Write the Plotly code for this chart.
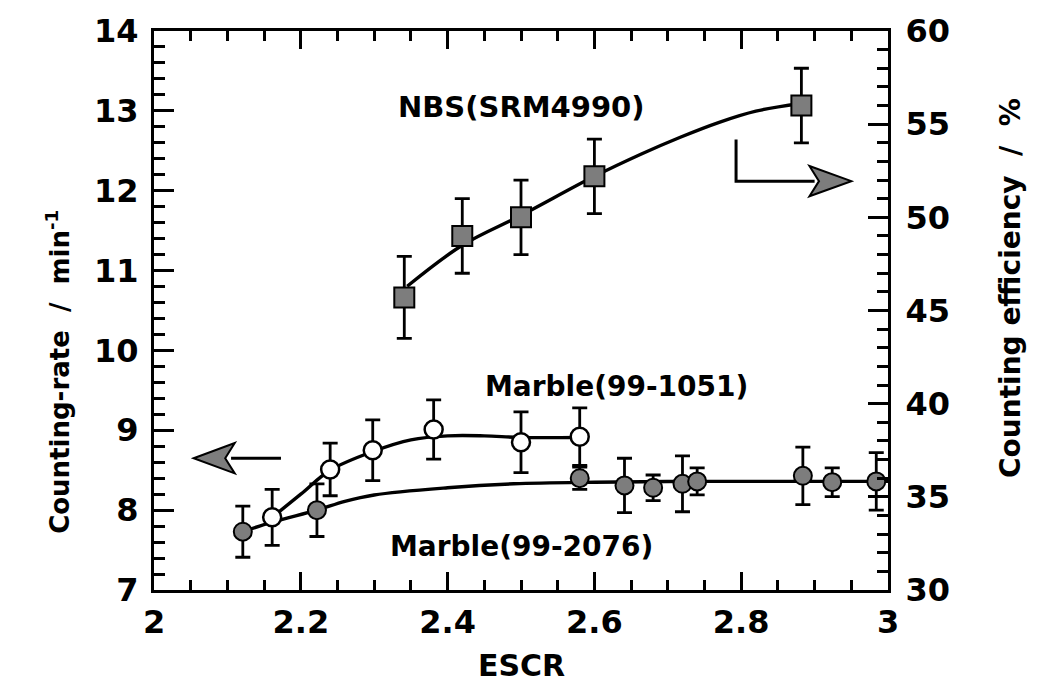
import plotly.graph_objects as go

# ---------------- data ----------------
nbs_x = [2.341, 2.420, 2.500, 2.600, 2.882]
nbs_y = [45.7, 49.0, 50.0, 52.2, 56.0]          # right axis (%)
nbs_err = [2.2, 2.0, 2.0, 2.0, 2.0]

m1051_x = [2.161, 2.240, 2.298, 2.381, 2.500, 2.580]
m1051_y = [7.91, 8.51, 8.75, 9.01, 8.85, 8.92]
m1051_err = [0.35, 0.33, 0.38, 0.37, 0.38, 0.36]

m2076_x = [2.121, 2.222, 2.580, 2.641, 2.680, 2.720, 2.740, 2.884, 2.924, 2.984]
m2076_y = [7.73, 8.00, 8.40, 8.31, 8.28, 8.33, 8.36, 8.43, 8.35, 8.36]
m2076_err = [0.32, 0.33, 0.14, 0.34, 0.16, 0.35, 0.17, 0.36, 0.18, 0.36]

# fitted curves
nbs_fit_x = [2.345, 2.42, 2.50, 2.60, 2.664, 2.717, 2.77, 2.82, 2.88]
nbs_fit_y = [46.3, 48.5, 50.1, 52.2, 53.4, 54.3, 55.1, 55.7, 56.1]
m1051_fit_x = [2.161, 2.20, 2.24, 2.30, 2.35, 2.40, 2.45, 2.50, 2.58]
m1051_fit_y = [7.91, 8.20, 8.50, 8.74, 8.88, 8.93, 8.93, 8.91, 8.91]
m2076_fit_x = [2.121, 2.161, 2.222, 2.26, 2.30, 2.40, 2.49, 2.60, 2.75, 2.90, 3.0]
m2076_fit_y = [7.73, 7.85, 8.00, 8.11, 8.19, 8.28, 8.33, 8.35, 8.36, 8.36, 8.36]

x_ticks = [2, 2.2, 2.4, 2.6, 2.8, 3]
x_ticklabels = ["2", "2.2", "2.4", "2.6", "2.8", "3"]
y_ticks = [7, 8, 9, 10, 11, 12, 13, 14]
y2_ticks = [30, 35, 40, 45, 50, 55, 60]

FONT = "DejaVu Sans"
GRAY = "#7d7d7d"

fig = go.Figure()

line_style = dict(color="black", width=3.4, shape="spline")
fig.add_trace(go.Scatter(x=m2076_fit_x, y=m2076_fit_y, mode="lines", line=line_style, hoverinfo="skip"))
fig.add_trace(go.Scatter(x=m1051_fit_x, y=m1051_fit_y, mode="lines", line=line_style, hoverinfo="skip"))
fig.add_trace(go.Scatter(x=nbs_fit_x, y=nbs_fit_y, mode="lines", line=line_style, yaxis="y2", hoverinfo="skip"))

err_style = dict(type="data", color="black", thickness=2.8, width=7.5)
fig.add_trace(go.Scatter(
    x=m2076_x, y=m2076_y, mode="markers",
    error_y=dict(array=m2076_err, **err_style),
    marker=dict(symbol="circle", size=18, color=GRAY, line=dict(color="black", width=2)),
))
fig.add_trace(go.Scatter(
    x=m1051_x, y=m1051_y, mode="markers",
    error_y=dict(array=m1051_err, **err_style),
    marker=dict(symbol="circle", size=18, color="white", line=dict(color="black", width=2.5)),
))
fig.add_trace(go.Scatter(
    x=nbs_x, y=nbs_y, mode="markers", yaxis="y2",
    error_y=dict(array=nbs_err, **err_style),
    marker=dict(symbol="square", size=20, color=GRAY, line=dict(color="black", width=2)),
))

tickfont = dict(family=FONT, size=32, color="black", weight="bold")

fig.update_layout(
    width=1050, height=699,
    margin=dict(l=154, r=162, t=22, b=109),
    paper_bgcolor="white", plot_bgcolor="white",
    showlegend=False,
    xaxis=dict(
        range=[2, 3], tickvals=x_ticks, ticktext=x_ticklabels,
        ticks="inside", ticklen=18, tickwidth=2.5, tickcolor="black",
        minor=dict(dtick=0.05, ticks="inside", ticklen=10, tickwidth=2.5, tickcolor="black"),
        showline=True, linewidth=3, linecolor="black", mirror="ticks",
        showgrid=False, zeroline=False, tickfont=tickfont, ticklabelstandoff=2,
    ),
    yaxis=dict(
        range=[7, 14], tickvals=y_ticks,
        ticks="inside", ticklen=20, tickwidth=2.5, tickcolor="black",
        minor=dict(dtick=0.2, ticks="inside", ticklen=11, tickwidth=2.5, tickcolor="black"),
        showline=True, linewidth=3, linecolor="black",
        showgrid=False, zeroline=False, tickfont=tickfont, ticklabelstandoff=6,
    ),
    yaxis2=dict(
        range=[30, 60], tickvals=y2_ticks, overlaying="y", side="right",
        ticks="inside", ticklen=20, tickwidth=2.5, tickcolor="black",
        minor=dict(dtick=1, ticks="inside", ticklen=11, tickwidth=2.5, tickcolor="black"),
        showline=True, linewidth=3, linecolor="black",
        showgrid=False, zeroline=False, tickfont=tickfont, ticklabelstandoff=8,
    ),
)

labfont = dict(family=FONT, size=29, color="black", weight="bold")
fig.add_annotation(x=2.50, y=13.05, xref="x", yref="y", text="NBS(SRM4990)", showarrow=False,
                   font=labfont, xanchor="center", yanchor="middle")
fig.add_annotation(x=2.63, y=9.55, xref="x", yref="y", text="Marble(99-1051)", showarrow=False,
                   font=dict(labfont, size=28), xanchor="center", yanchor="middle")
fig.add_annotation(x=2.50, y=7.55, xref="x", yref="y", text="Marble(99-2076)", showarrow=False,
                   font=dict(labfont, size=28), xanchor="center", yanchor="middle")

titlefont = dict(family=FONT, size=26, color="black", weight="bold")
fig.add_annotation(x=-0.131, y=0.39, xref="paper", yref="paper",
                   text="Counting-rate\u00a0\u00a0/\u00a0\u00a0min<sup>-1</sup>",
                   textangle=-90, showarrow=False, font=titlefont, xanchor="center", yanchor="middle")
fig.add_annotation(x=1.166, y=0.54, xref="paper", yref="paper",
                   text="Counting efficiency\u00a0\u00a0/\u00a0\u00a0%",
                   textangle=-90, showarrow=False, font=dict(titlefont, size=28), xanchor="center", yanchor="middle")
fig.add_annotation(x=0.5, y=-0.135, xref="paper", yref="paper", text="ESCR", showarrow=False,
                   font=dict(family=FONT, size=30, color="black", weight="bold"), xanchor="center", yanchor="middle")

# direction arrows (decorations)
fig.add_shape(type="line", xref="x", yref="y", x0=2.105, y0=8.65, x1=2.173, y1=8.65,
              line=dict(color="black", width=3))
fig.add_shape(type="path", xref="x", yref="y",
              path="M 2.054 8.65 L 2.110 8.84 L 2.097 8.65 L 2.110 8.46 Z",
              fillcolor=GRAY, line=dict(color="black", width=2))
fig.add_shape(type="path", xref="x", yref="y",
              path="M 2.793 12.64 L 2.793 12.12 L 2.900 12.12",
              line=dict(color="black", width=3))
fig.add_shape(type="path", xref="x", yref="y",
              path="M 2.950 12.12 L 2.893 12.31 L 2.906 12.12 L 2.893 11.93 Z",
              fillcolor=GRAY, line=dict(color="black", width=2))

fig.write_html("out.html")
